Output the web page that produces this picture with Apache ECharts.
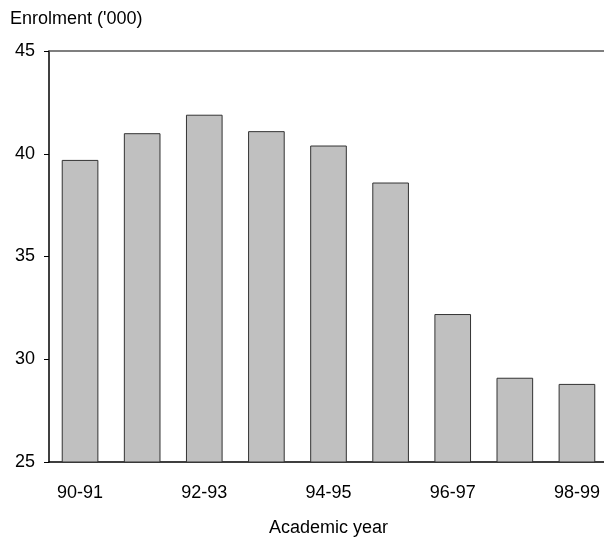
<!DOCTYPE html>
<html>
<head>
<meta charset="utf-8">
<script src="https://cdn.jsdelivr.net/npm/echarts@6/dist/echarts.min.js"></script>
<style>html,body{margin:0;padding:0;background:#fff}#c{width:604px;height:537px}</style>
</head>
<body>
<div id="c"></div>
<script>
const categories = ['90-91','91-92','92-93','93-94','94-95','95-96','96-97','97-98','98-99'];
const enrolment = [39.7, 41.0, 41.9, 41.1, 40.4, 38.6, 32.2, 29.1, 28.8];
const yTicks = { min: 25, max: 45, interval: 5 };

const font = 'Liberation Sans, Arial, sans-serif';
const chart = echarts.init(document.getElementById('c'), null, { renderer: 'canvas' });
chart.setOption({
  animation: false,
  backgroundColor: '#fff',
  title: {
    text: "Enrolment ('000)",
    left: 10, top: 10, padding: 0,
    textStyle: { fontFamily: font, fontSize: 18, fontWeight: 'normal', color: '#000' }
  },
  grid: { left: 49, width: 559, top: 51, bottom: 75, containLabel: false, outerBoundsMode: 'none' },
  xAxis: [{
    type: 'category',
    data: categories,
    boundaryGap: true,
    name: 'Academic year',
    nameLocation: 'middle',
    nameGap: 57,
    nameTextStyle: { fontFamily: font, fontSize: 18, color: '#000' },
    axisLine: { lineStyle: { color: '#000', width: 1.5 } },
    axisTick: { show: false },
    axisLabel: { interval: 1, margin: 22, fontFamily: font, fontSize: 18, color: '#000' }
  }, {
    type: 'category',
    data: categories,
    position: 'top',
    axisLine: { show: true, lineStyle: { color: '#555', width: 1.5 } },
    axisTick: { show: false },
    axisLabel: { show: false }
  }],
  yAxis: {
    type: 'value',
    min: yTicks.min, max: yTicks.max, interval: yTicks.interval,
    axisLine: { show: true, lineStyle: { color: '#000', width: 1.5 } },
    axisTick: { show: true, length: 5, lineStyle: { color: '#000' } },
    splitLine: { show: false },
    axisLabel: { margin: 14, fontFamily: font, fontSize: 18, color: '#000' }
  },
  series: [{
    type: 'bar',
    data: enrolment,
    barCategoryGap: '41%',
    itemStyle: { color: '#c0c0c0', borderColor: '#333', borderWidth: 1 }
  }]
});
</script>
</body>
</html>
